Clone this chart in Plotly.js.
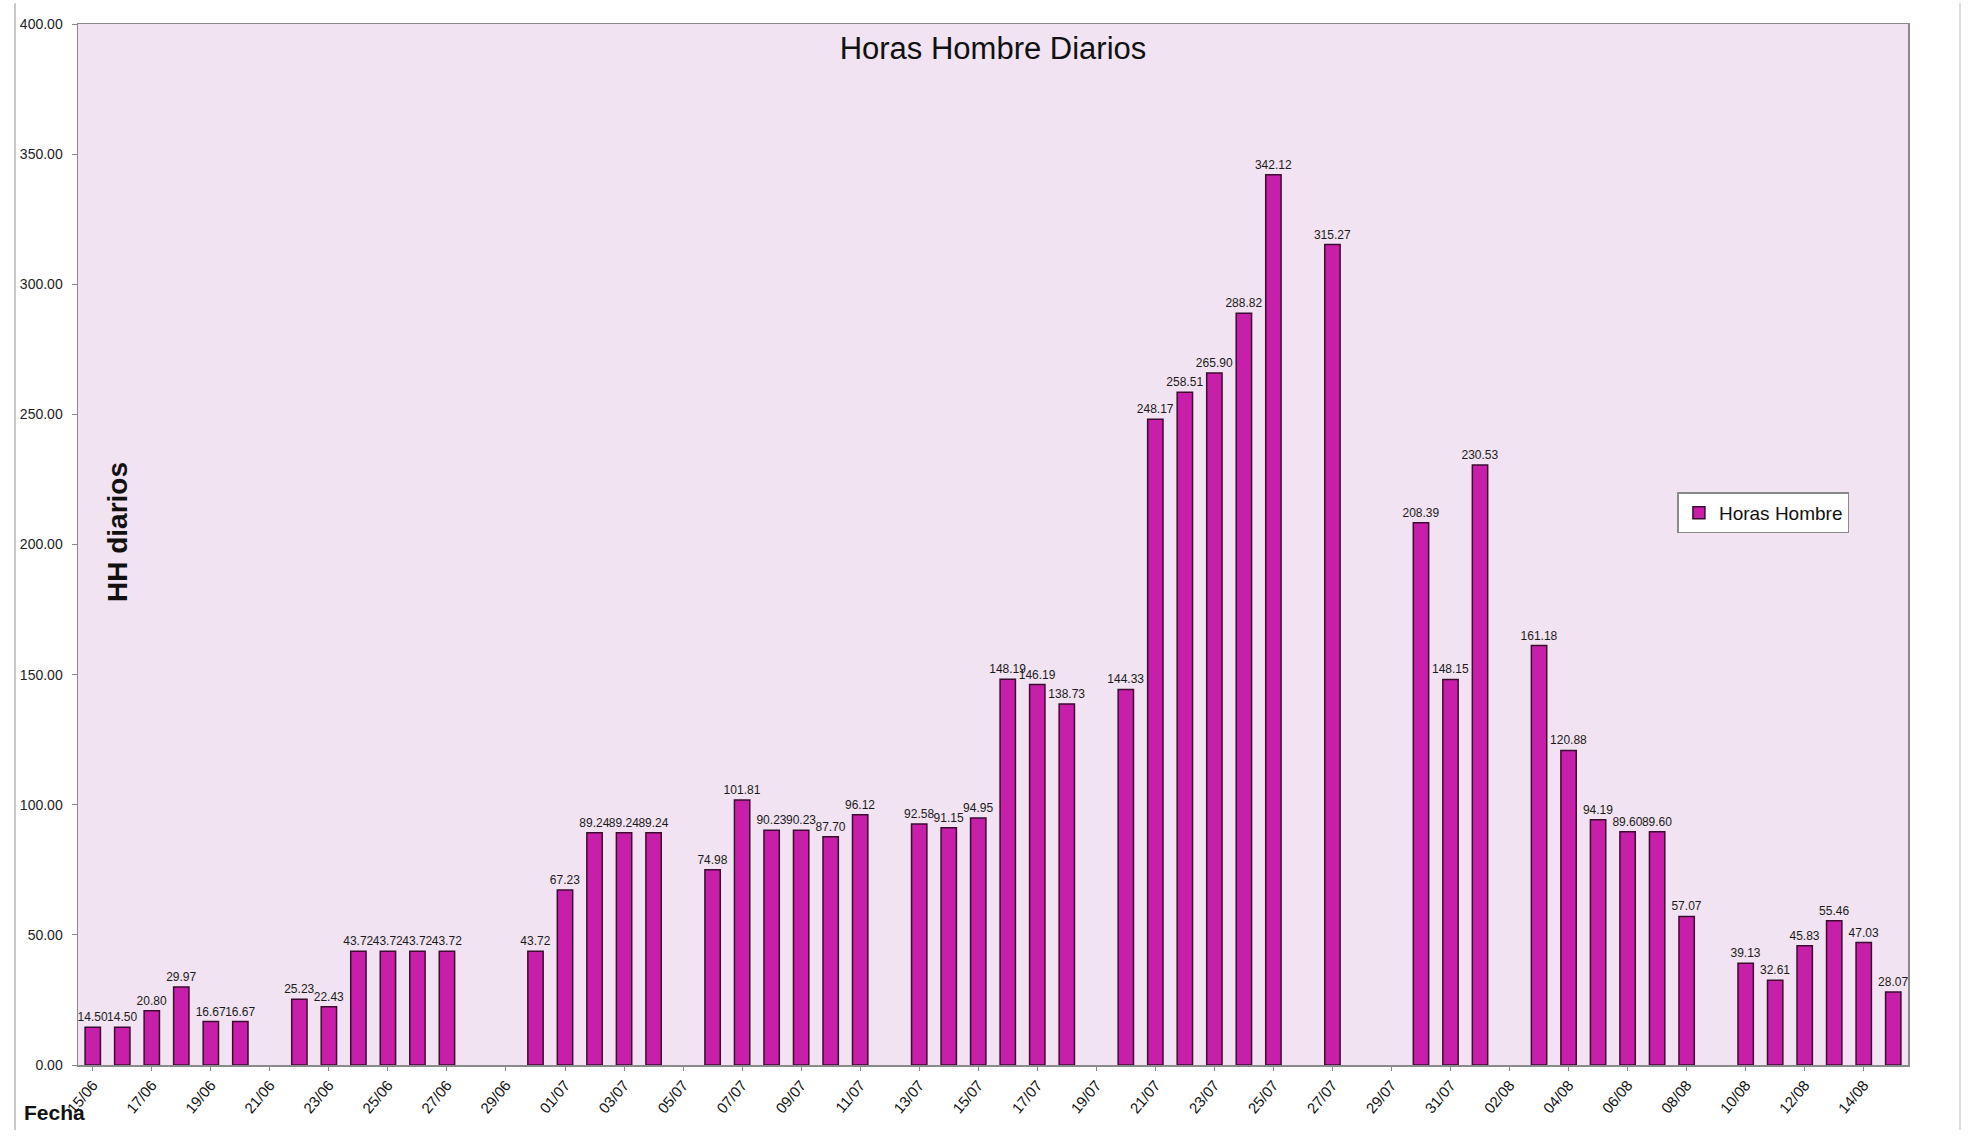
<!DOCTYPE html>
<html>
<head>
<meta charset="utf-8">
<script src="https://cdn.plot.ly/plotly-3.0.1.min.js"></script>
<style>html,body{margin:0;padding:0;background:#fff;}#chart{width:1973px;height:1138px;}</style>
</head>
<body>
<div id="chart"></div>
<script>
const fechas = [
  "15/06","16/06","17/06","18/06","19/06","20/06","21/06","22/06","23/06","24/06","25/06","26/06","27/06","28/06","29/06","30/06",
  "01/07","02/07","03/07","04/07","05/07","06/07","07/07","08/07","09/07","10/07","11/07","12/07","13/07","14/07","15/07","16/07",
  "17/07","18/07","19/07","20/07","21/07","22/07","23/07","24/07","25/07","26/07","27/07","28/07","29/07","30/07","31/07",
  "01/08","02/08","03/08","04/08","05/08","06/08","07/08","08/08","09/08","10/08","11/08","12/08","13/08","14/08","15/08"
];
const horasHombre = [
  14.50, 14.50, 20.80, 29.97, 16.67, 16.67, null, 25.23, 22.43, 43.72, 43.72, 43.72, 43.72, null, null, 43.72,
  67.23, 89.24, 89.24, 89.24, null, 74.98, 101.81, 90.23, 90.23, 87.70, 96.12, null, 92.58, 91.15, 94.95, 148.19,
  146.19, 138.73, null, 144.33, 248.17, 258.51, 265.90, 288.82, 342.12, null, 315.27, null, null, 208.39, 148.15,
  230.53, null, 161.18, 120.88, 94.19, 89.60, 89.60, 57.07, null, 39.13, 32.61, 45.83, 55.46, 47.03, 28.07
];
const etiquetasX = [
  "15/06","17/06","19/06","21/06","23/06","25/06","27/06","29/06","01/07","03/07","05/07","07/07","09/07","11/07","13/07","15/07",
  "17/07","19/07","21/07","23/07","25/07","27/07","29/07","31/07","02/08","04/08","06/08","08/08","10/08","12/08","14/08"
];
const yTicks = [0, 50, 100, 150, 200, 250, 300, 350, 400];

const trace = {
  type: 'bar',
  name: 'Horas Hombre',
  x: fechas,
  y: horasHombre,
  marker: { color: '#C81FAA', line: { color: '#3c0c30', width: 1.5 } },
  texttemplate: '%{y:.2f}',
  textposition: 'outside',
  constraintext: 'none',
  textfont: { family: 'Liberation Sans, Arial, sans-serif', size: 12, color: '#1a1a1a' },
  cliponaxis: false,
  hoverinfo: 'x+y'
};

const layout = {
  width: 1973, height: 1138,
  margin: { l: 78, r: 65, t: 24, b: 73 },
  paper_bgcolor: '#ffffff',
  plot_bgcolor: '#F1E3F1',
  bargap: 0.48,
  showlegend: true,
  font: { family: 'Liberation Sans, Arial, sans-serif', color: '#111' },
  title: {
    text: 'Horas Hombre Diarios',
    font: { family: 'Liberation Sans, Arial, sans-serif', size: 31, color: '#111' },
    x: 0.5, xref: 'paper', xanchor: 'center',
    y: 1 - 48/1138, yref: 'container', yanchor: 'middle'
  },
  xaxis: {
    type: 'category',
    categoryorder: 'array',
    categoryarray: fechas,
    tickmode: 'array',
    tickvals: etiquetasX,
    ticktext: etiquetasX,
    tickangle: -50,
    tickfont: { size: 15, color: '#111' },
    ticks: 'outside', ticklen: 4, tickcolor: '#888',
    showline: true, linecolor: '#8a8a8a', linewidth: 1.5,
    mirror: true,
    showgrid: false,
    range: [-0.5, 61.5],
    fixedrange: true
  },
  yaxis: {
    range: [0, 400],
    tickmode: 'array',
    tickvals: yTicks,
    tickformat: '.2f',
    tickfont: { size: 14, color: '#222' },
    ticks: 'outside', ticklen: 5, tickcolor: '#888',
    ticklabelstandoff: 6,
    showline: true, linecolor: '#8a8a8a', linewidth: 1.5,
    mirror: true,
    showgrid: false,
    zeroline: false,
    fixedrange: true
  },
  legend: {
    x: 0.874, y: 0.55, xanchor: 'left', yanchor: 'top',
    bgcolor: '#ffffff', bordercolor: '#8a8a8a', borderwidth: 1.5,
    font: { size: 19, color: '#111' },
    itemwidth: 30,
    tracegroupgap: 0
  },
  annotations: [
    { text: '<b>HH diarios</b>', xref: 'paper', yref: 'paper',
      x: (117 - 78) / 1830, y: (1065 - 532) / 1041, textangle: -90,
      showarrow: false, font: { size: 28, color: '#111' }, xanchor: 'center', yanchor: 'middle' },
    { text: '<b>Fecha</b>', xref: 'paper', yref: 'paper',
      x: (22 - 78) / 1830, y: -(1112 - 1065) / 1041,
      showarrow: false, font: { size: 21, color: '#111' }, xanchor: 'left', yanchor: 'middle' }
  ],
  shapes: [
    { type: 'line', xref: 'paper', yref: 'paper', x0: (15 - 78) / 1830, x1: (15 - 78) / 1830, y0: -(1130 - 1065) / 1041, y1: 1.02,
      line: { color: '#c8c8c8', width: 2 } },
    { type: 'line', xref: 'paper', yref: 'paper', x0: (1960 - 78) / 1830, x1: (1960 - 78) / 1830, y0: -(1130 - 1065) / 1041, y1: 1.02,
      line: { color: '#dddddd', width: 2 } }
  ]
};

Plotly.newPlot('chart', [trace], layout, { displayModeBar: false, staticPlot: true });
</script>
</body>
</html>
